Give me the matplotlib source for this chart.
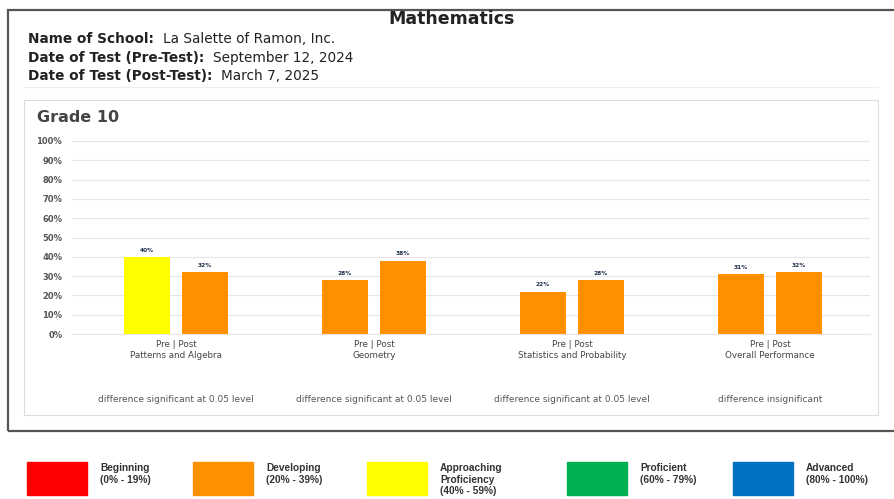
import matplotlib.pyplot as plt
import matplotlib.patches as mpatches
import numpy as np

W, H = 894, 499

# data
categories = ['Patterns and Algebra', 'Geometry', 'Statistics and Probability', 'Overall Performance']
pre_scores = [40, 28, 22, 31]
post_scores = [32, 38, 28, 32]
diff_notes = ['difference significant at 0.05 level', 'difference significant at 0.05 level',
              'difference significant at 0.05 level', 'difference insignificant']
yticks = list(range(0, 101, 10))

levels = ['Beginning\n(0% - 19%)', 'Developing\n(20% - 39%)', 'Approaching\nProficiency\n(40% - 59%)',
          'Proficient\n(60% - 79%)', 'Advanced\n(80% - 100%)']
level_colors = ['#FF0000', '#FF9100', '#FFFF00', '#00B050', '#0070C0']


def level_color(v):
    if v < 20:
        return level_colors[0]
    elif v < 40:
        return level_colors[1]
    elif v < 60:
        return level_colors[2]
    elif v < 80:
        return level_colors[3]
    return level_colors[4]


def fx(x):
    return x / W


def fy(y):
    return 1 - y / H


fig = plt.figure(figsize=(W / 100, H / 100), dpi=100)

# outer frame and chart panel
fig.add_artist(mpatches.Rectangle((fx(8), fy(431)), fx(900) - fx(8), fy(10) - fy(431),
                                  fill=False, ec='#555555', lw=1.6, transform=fig.transFigure))
fig.add_artist(mpatches.Rectangle((fx(24), fy(415)), fx(878) - fx(24), fy(100) - fy(415),
                                  fill=False, ec='#dddddd', lw=0.8, transform=fig.transFigure))
fig.add_artist(plt.Line2D([fx(24), fx(878)], [fy(87), fy(87)], color='#eeeeee', lw=0.8,
                          transform=fig.transFigure))

fig.text(fx(452), fy(19), 'Mathematics', ha='center', va='center', fontsize=12.5, fontweight='bold',
         color='#222222')

header = [('Name of School:', 'La Salette of Ramon, Inc.'),
          ('Date of Test (Pre-Test):', 'September 12, 2024'),
          ('Date of Test (Post-Test):', 'March 7, 2025')]
for i, (k, v) in enumerate(header):
    y = 39 + i * 18.5
    t = fig.text(fx(28), fy(y), k, ha='left', va='center', fontsize=9.8, fontweight='bold',
                 color='#222222')
    fig.canvas.draw()
    bb = t.get_window_extent()
    fig.text(bb.x1 / W + fx(9), fy(y), v, ha='left', va='center', fontsize=9.8, color='#222222')

fig.text(fx(37), fy(117), 'Grade 10', ha='left', va='center', fontsize=11.5, fontweight='bold', color='#444444')

# bar axes
ax = fig.add_axes([fx(72), fy(334), fx(870) - fx(72), fy(141) - fy(334)])
x = np.arange(len(categories))
off = 0.147
bw = 0.235
pre_bars = ax.bar(x - off, pre_scores, bw, color=[level_color(v) for v in pre_scores], zorder=3)
post_bars = ax.bar(x + off, post_scores, bw, color=[level_color(v) for v in post_scores], zorder=3)
for bars, vals in [(pre_bars, pre_scores), (post_bars, post_scores)]:
    for b, v in zip(bars, vals):
        ax.annotate(f'{v}%', xy=(b.get_x() + b.get_width() / 2, v), xytext=(0, 3),
                    textcoords='offset points', ha='center', va='bottom', size=4.2,
                    fontweight='bold', color='#1f2d4d')

ax.set_xlim(-0.525, 3.505)
ax.set_ylim(0, 100)
ax.set_yticks(yticks)
ax.set_yticklabels([f'{t}%' for t in yticks], fontsize=6, color='#555555', fontweight='bold')
ax.set_xticks(x)
ax.set_xticklabels([f'Pre | Post\n{c}' for c in categories], fontsize=6.3, color='#444444', linespacing=1.3)
ax.tick_params(length=0, pad=4)
ax.tick_params(axis='y', pad=7)
ax.grid(axis='y', color='#e6e6e6', lw=0.8, zorder=0)
for s in ax.spines.values():
    s.set_visible(False)
ax.spines['bottom'].set_visible(True)
ax.spines['bottom'].set_color('#e6e6e6')

for i, note in enumerate(diff_notes):
    px = 176 + i * 198
    fig.text(fx(px), fy(400), note, ha='center', va='center', fontsize=6.5, color='#555555')

# colour legend
legend_x = [27, 193, 367, 567, 733]
for lx, lab, col in zip(legend_x, levels, level_colors):
    fig.add_artist(mpatches.Rectangle((fx(lx), fy(495)), fx(60), fy(462) - fy(495),
                                      color=col, transform=fig.transFigure))
    fig.text(fx(lx + 73), fy(463), lab, ha='left', va='top', fontsize=7.3, fontweight='bold',
             color='#333333', linespacing=1.2, family='Liberation Sans')

fig.savefig('out.png', dpi=100)
